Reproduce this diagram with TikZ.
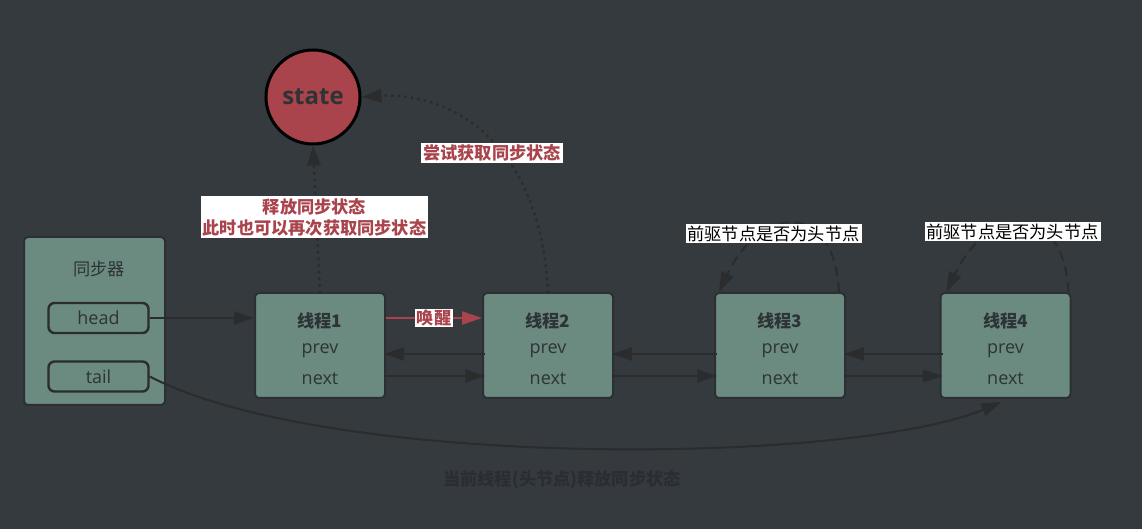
\documentclass[tikz,border=0pt]{standalone}
\usepackage{fontspec}
\setmainfont{Open Sans}
\newfontfamily\cjk{Noto Sans CJK SC}
\usetikzlibrary{arrows.meta,positioning,calc}
\definecolor{bg}{HTML}{353A3F}
\definecolor{sage}{HTML}{6B8A80}
\definecolor{rim}{HTML}{2C3034}
\definecolor{ink}{HTML}{2E3336}
\definecolor{wine}{HTML}{A9434C}
\definecolor{wire}{HTML}{2A2C2E}
\definecolor{shade}{HTML}{2A2D31}
\tikzset{
  thread/.style={draw=rim,line width=1pt,rounded corners=2pt,fill=sage,
    minimum width=65pt,minimum height=52.5pt},
  field/.style={draw=wire,line width=1.2pt,rounded corners=3pt,fill=sage,
    minimum width=50pt,minimum height=15pt,inner sep=0pt,
    font=\fontsize{9}{10}\selectfont,text=ink},
  tname/.style={font=\cjk\bfseries\fontsize{8.6}{10}\selectfont,text=ink},
  ptr/.style={font=\fontsize{9}{10}\selectfont,text=ink},
  link/.style={-{Triangle[length=10pt,width=6.5pt]},line width=1pt,draw=wire},
  dotlink/.style={link,line cap=round,dash pattern=on 0.1pt off 3.2pt,line width=1.6pt},
  recheck/.style={link,dash pattern=on 5pt off 3pt},
  hint/.style={fill=white,text=wine,font=\cjk\bfseries\fontsize{8.6}{10.5}\selectfont,
    inner xsep=1pt,inner ysep=1pt,align=center},
  note/.style={fill=white,text=black,font=\cjk\fontsize{8.6}{10}\selectfont,
    inner xsep=1pt,inner ysep=1pt}
}
\begin{document}
\begin{tikzpicture}[x=0.5pt,y=-0.5pt]
  \fill[bg] (0,0) rectangle (1142,529);
  \useasboundingbox (0,0) rectangle (1142,529);

  % synchronizer
  \node[draw=rim,line width=1pt,rounded corners=2pt,fill=sage,
    minimum width=70.5pt,minimum height=84pt] (sync) at (94.5,321) {};
  \node[font=\cjk\fontsize{8.6}{10}\selectfont,text=ink] (synctitle) at (99,269) {同步器};
  \node[field] (head) at (98.5,318) {head};
  \node[field] (tail) at (98.5,376.5) {tail};

  % shared state
  \node[circle,draw=black,line width=1.5pt,fill=wine,minimum size=47pt,
    font=\bfseries\fontsize{12}{13}\selectfont,text=ink] (state) at (313,97) {state};

  % threads in the queue
  \node[thread] (t1) at (320,345.5) {};
  \node[tname] (name1) at ($(t1)+(0,-25)$) {线程1};
  \node[ptr] (prev1) at ($(t1)+(0,5)$) {prev};
  \node[ptr] (next1) at ($(t1)+(0,33)$) {next};

  \node[thread] (t2) at (548,345.5) {};
  \node[tname] (name2) at ($(t2)+(0,-25)$) {线程2};
  \node[ptr] (prev2) at ($(t2)+(0,5)$) {prev};
  \node[ptr] (next2) at ($(t2)+(0,33)$) {next};

  \node[thread] (t3) at (780,345.5) {};
  \node[tname] (name3) at ($(t3)+(0,-25)$) {线程3};
  \node[ptr] (prev3) at ($(t3)+(0,5)$) {prev};
  \node[ptr] (next3) at ($(t3)+(0,33)$) {next};

  \node[thread] (t4) at (1005.5,345.5) {};
  \node[tname] (name4) at ($(t4)+(0,-25)$) {线程4};
  \node[ptr] (prev4) at ($(t4)+(0,5)$) {prev};
  \node[ptr] (next4) at ($(t4)+(0,33)$) {next};

  % prev / next links
  \draw[link] ($(t2.west)+(3,8.5)$) -- ($(t1.east)+(-2,8.5)$);
  \draw[link] ($(t1.east)+(-2,30.5)$) -- ($(t2.west)+(3,30.5)$);
  \draw[link] ($(t3.west)+(3,8.5)$) -- ($(t2.east)+(-2,8.5)$);
  \draw[link] ($(t2.east)+(-2,30.5)$) -- ($(t3.west)+(3,30.5)$);
  \draw[link] ($(t4.west)+(3,8.5)$) -- ($(t3.east)+(-2,8.5)$);
  \draw[link] ($(t3.east)+(-2,30.5)$) -- ($(t4.west)+(3,30.5)$);

  \draw[link] (head.east) -- (head.east -| t1.west);
  \draw[link] (tail.east) .. controls (330,470) and (850,465) .. ($(t4.south)+(-4,3)$);
  \draw[link,draw=wine,-{Triangle[length=10pt,width=6.5pt,fill=wine]}]
    ($(t1.east)+(0,-27.5)$) -- node[hint,inner ysep=0.5pt] (wake) {唤醒} ($(t2.west)+(0,-27.5)$);

  % access to the state
  \draw[dotlink] (t1.north) -- (state.south);
  \draw[dotlink] (t2.north) .. controls (540,140) and (450,92) .. (state.east);
  \draw[recheck] ($(t3.north east)+(-7,0)$) .. controls +(-5,-95) and +(40,-85) .. ($(t3.north west)+(5,0)$);
  \draw[recheck] ($(t4.north east)+(-3,0)$) .. controls +(-5,-95) and +(40,-85) .. ($(t4.north west)+(7,0)$);

  \node[hint] (release) at (314.5,217) {释放同步状态\\此时也可以再次获取同步状态};
  \node[hint] (acquire) at (492,153) {尝试获取同步状态};
  \node[note] (check3) at (773.5,233.5) {前驱节点是否为头节点};
  \node[note] (check4) at (1012.5,231.5) {前驱节点是否为头节点};

  \node[font=\cjk\bfseries\fontsize{8.6}{10}\selectfont,text=shade] (caption)
    at (562,480) {当前线程(头节点)释放同步状态};
\end{tikzpicture}
\end{document}
